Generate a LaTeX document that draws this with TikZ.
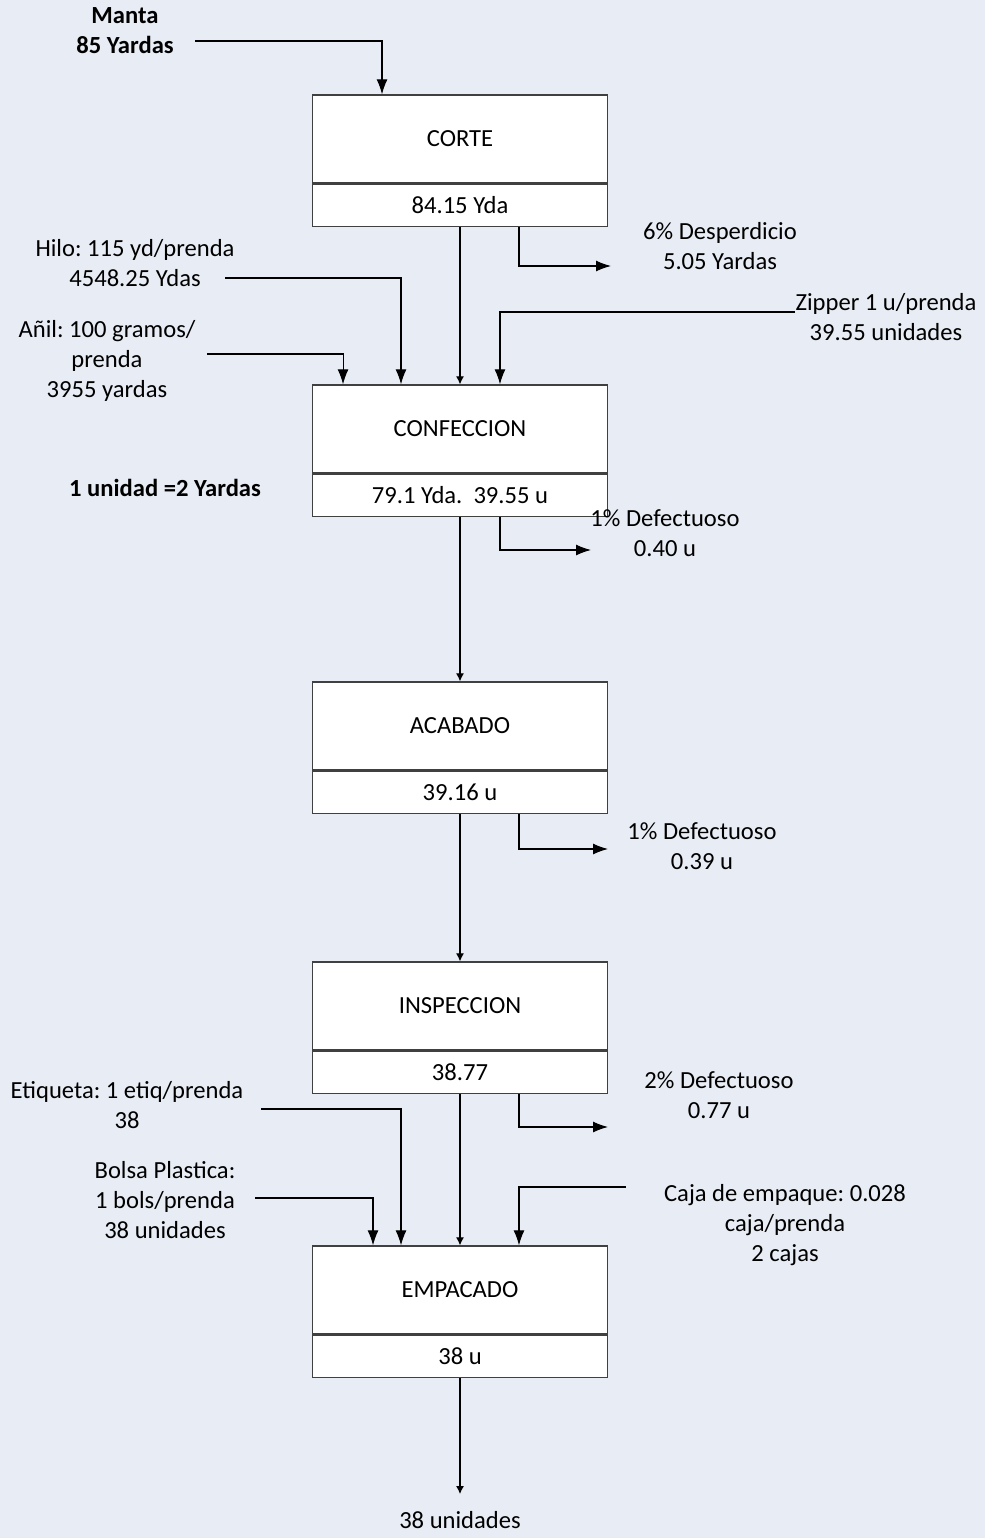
\documentclass[tikz,border=0pt]{standalone}
\usepackage{fontspec}
\setmainfont{Carlito}
\usetikzlibrary{positioning, arrows.meta}
\definecolor{PageBlue}{RGB}{232, 236, 244}
\definecolor{BoxLine}{RGB}{64, 64, 64}
\frenchspacing

\tikzset{
  proc/.style={draw=BoxLine, line width=0.8pt, fill=white, minimum width=5.9cm, minimum height=1.76cm, inner sep=0pt},
  qty/.style={draw=BoxLine, line width=0.8pt, fill=white, minimum width=5.9cm, minimum height=0.84cm, inner sep=0pt},
  lbl/.style={align=center, inner sep=0pt},
  flow/.style={line width=0.6pt, -{Latex[length=4.5pt, width=4.5pt]}},
  side/.style={line width=0.6pt, -{Latex[length=8.5pt, width=6.2pt]}}
}

\begin{document}
\begin{tikzpicture}[x=0.02cm, y=-0.02cm, font=\fontsize{14}{17}\selectfont]
    % Page
    \fill[PageBlue] (0,0) rectangle (985,1538);
    \useasboundingbox (0,0) rectangle (985,1538);

    % Process boxes
    \node[proc] (corte) at (460,139) {CORTE};
    \node[qty, below=0pt of corte] (corteq) {84.15 Yda};
    \node[proc] (confeccion) at (460,429) {CONFECCION};
    \node[qty, below=0pt of confeccion] (confeccionq) {79.1 Yda.~~39.55 u};
    \node[proc] (acabado) at (460,726) {ACABADO};
    \node[qty, below=0pt of acabado] (acabadoq) {39.16 u};
    \node[proc] (inspeccion) at (460,1006) {INSPECCION};
    \node[qty, below=0pt of inspeccion] (inspeccionq) {38.77};
    \node[proc] (empacado) at (460,1290) {EMPACADO};
    \node[qty, below=0pt of empacado] (empacadoq) {38 u};

    % Inputs
    \node[lbl, font=\fontsize{14}{17}\selectfont\bfseries] (manta) at (125,31) {Manta\\85 Yardas};
    \node[lbl] (hilo) at (135,263) {Hilo: 115 yd/prenda\\4548.25 Ydas};
    \node[lbl] (anil) at (107,361) {Añil: 100 gramos/\\prenda\\3955 yardas};
    \node[lbl] (zipper) at (886,317) {Zipper 1 u/prenda\\39.55 unidades};
    \node[lbl] (etiqueta) at (127,1105) {Etiqueta: 1 etiq/prenda\\38};
    \node[lbl] (bolsa) at (165,1200) {Bolsa Plastica:\\1 bols/prenda\\38 unidades};
    \node[lbl] (caja) at (785,1225) {Caja de empaque: 0.028\\caja/prenda\\2 cajas};
    \node[lbl, font=\fontsize{14}{17}\selectfont\bfseries] (unidad) at (165,488) {1 unidad =2 Yardas};

    % Losses
    \node[lbl] (desperdicio) at (720,246) {6\% Desperdicio\\5.05 Yardas};
    \node[lbl] (defecto1) at (665,533) {1\% Defectuoso\\0.40 u};
    \node[lbl] (defecto2) at (702,846) {1\% Defectuoso\\0.39 u};
    \node[lbl] (defecto3) at (719,1095) {2\% Defectuoso\\0.77 u};
    \node[lbl] (salida) at (460,1520) {38 unidades};

    % Line ends
    \coordinate (mantaend) at (195,41);
    \coordinate (hiloend) at (225,278);
    \coordinate (anilend) at (207,354);
    \coordinate (zipperend) at (795,312);
    \coordinate (etiquetaend) at (261,1109);
    \coordinate (bolsaend) at (255,1198);
    \coordinate (cajaend) at (626,1187);
    \coordinate (despout) at (611,266);
    \coordinate (def1out) at (591,550);
    \coordinate (def2out) at (608,849);
    \coordinate (def3out) at (608,1127);
    \coordinate (salidaend) at (460,1494);

    % Main flow
    \draw[flow] (corteq.south) -- (confeccion.north);
    \draw[flow] (confeccionq.south) -- (acabado.north);
    \draw[flow] (acabadoq.south) -- (inspeccion.north);
    \draw[flow] (inspeccionq.south) -- (empacado.north);
    \draw[flow] (empacadoq.south) -- (salidaend);

    % Materials in
    \draw[side] (mantaend) -| ([xshift=-1.56cm]corte.north);
    \draw[side] (hiloend) -| ([xshift=-1.18cm]confeccion.north);
    \draw[side] (anilend) -| ([xshift=-2.34cm]confeccion.north);
    \draw[side] (zipperend) -| ([xshift=0.8cm]confeccion.north);
    \draw[side] (etiquetaend) -| ([xshift=-1.18cm]empacado.north);
    \draw[side] (bolsaend) -| ([xshift=-1.74cm]empacado.north);
    \draw[side] (cajaend) -| ([xshift=1.18cm]empacado.north);

    % Waste out
    \draw[side] ([xshift=1.18cm]corteq.south) |- (despout);
    \draw[side] ([xshift=0.8cm]confeccionq.south) |- (def1out);
    \draw[side] ([xshift=1.18cm]acabadoq.south) |- (def2out);
    \draw[side] ([xshift=1.18cm]inspeccionq.south) |- (def3out);
\end{tikzpicture}
\end{document}
